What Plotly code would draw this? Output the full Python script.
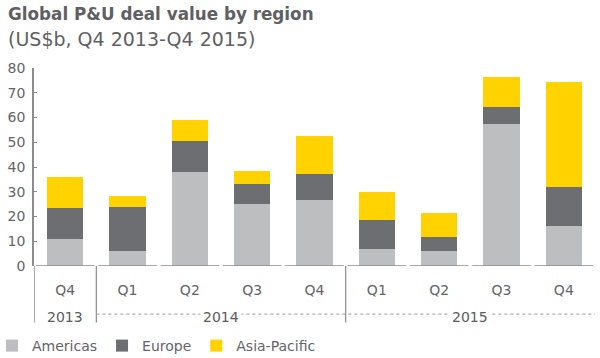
import plotly.graph_objects as go

quarters = ["Q4", "Q1", "Q2", "Q3", "Q4", "Q1", "Q2", "Q3", "Q4"]
periods = ["Q4 2013", "Q1 2014", "Q2 2014", "Q3 2014", "Q4 2014",
           "Q1 2015", "Q2 2015", "Q3 2015", "Q4 2015"]
years = ["2013", "2014", "2015"]
year_centers = [0, 2.5, 6.5]
year_dividers = [0.5, 4.5]

americas = [11, 6, 38, 25, 26.8, 7, 6, 57.3, 16]
europe = [12.5, 18, 12.7, 8.1, 10.2, 11.7, 5.8, 6.9, 15.8]
asia_pacific = [12.3, 4.3, 8.1, 5.3, 15.4, 11.3, 9.7, 12.2, 42.7]

title_text = "Global P&U deal value by region"
subtitle_text = "(US$b, Q4 2013-Q4 2015)"

colors = {"Americas": "#BDBEC0", "Europe": "#6D6E71", "Asia-Pacific": "#FFD200"}
FONT = "DejaVu Sans"
TXT = "#646469"

W, H = 600, 358
ML, MR, MT, MB = 34, 5, 68, 92
PW, PH = W - ML - MR, H - MT - MB

x = list(range(len(periods)))
fig = go.Figure()
for name, vals in [("Americas", americas), ("Europe", europe), ("Asia-Pacific", asia_pacific)]:
    fig.add_trace(go.Bar(x=x, y=vals, name=name, marker_color=colors[name],
                         marker_line_width=0, hovertext=periods))

shapes = []
for i in x:
    shapes.append(dict(type="line", xref="x", yref="y", x0=i - 0.47, x1=i + 0.47, y0=0, y1=0,
                       line=dict(color="#8C8C8C", width=1.5)))
shapes.append(dict(type="line", xref="x", yref="paper", x0=-0.5, x1=-0.5, y0=0, y1=-0.285,
                   line=dict(color="#8C8C8C", width=1.5)))
for d in year_dividers:
    shapes.append(dict(type="line", xref="x", yref="paper", x0=d, x1=d, y0=0, y1=-0.285,
                       line=dict(color="#8C8C8C", width=1.2)))
shapes.append(dict(type="line", xref="x", yref="paper", x0=0.5, x1=8.55, y0=-0.243, y1=-0.243,
                   line=dict(color="#9A9A9A", width=1, dash="dot")))


def px_to_paper(px, py):
    return (px - ML) / PW, (H - py - MB) / PH


annotations = []
for yr, c in zip(years, year_centers):
    annotations.append(dict(x=c, y=-0.258, xref="x", yref="paper", text=yr, showarrow=False,
                            font=dict(family=FONT, size=14, color="#5A5A5F"),
                            bgcolor="white", borderpad=2, yanchor="middle"))
tx, ty = px_to_paper(6, 14)
annotations.append(dict(x=tx, y=ty, xref="paper", yref="paper",
                        text="<b>" + title_text + "</b>", showarrow=False,
                        xanchor="left", yanchor="middle",
                        font=dict(family=FONT, size=16.8, color="#5F5F64")))
sx, sy = px_to_paper(6, 39)
annotations.append(dict(x=sx, y=sy, xref="paper", yref="paper",
                        text=subtitle_text, showarrow=False,
                        xanchor="left", yanchor="middle",
                        font=dict(family=FONT, size=19, color="#5F5F64")))

lx, ly = px_to_paper(-8, 346)
fig.update_layout(
    width=W, height=H,
    margin=dict(l=ML, r=MR, t=MT, b=MB, autoexpand=False),
    paper_bgcolor="white", plot_bgcolor="white",
    barmode="stack", bargap=0.42,
    font=dict(family=FONT, color=TXT, size=14),
    xaxis=dict(range=[-0.5, 8.5], tickmode="array", tickvals=x, ticktext=quarters,
               showline=False, ticks="", showgrid=False, zeroline=False, automargin=False,
               ticklabelstandoff=14, tickfont=dict(size=14, color=TXT)),
    yaxis=dict(range=[0, 80], dtick=10, showline=True, linecolor="#8C8C8C", linewidth=1.5,
               ticks="inside", ticklen=3, tickcolor="#8C8C8C", showgrid=False, zeroline=False,
               automargin=False, tickfont=dict(size=14, color=TXT), ticklabelstandoff=4),
    legend=dict(orientation="h", x=lx, xanchor="left", y=ly, yanchor="middle",
                font=dict(size=14, color=TXT), traceorder="normal", itemwidth=30),
    shapes=shapes, annotations=annotations,
)
fig.write_html("out.html", config={"displayModeBar": False},
               post_script="document.body.style.margin='0';")
